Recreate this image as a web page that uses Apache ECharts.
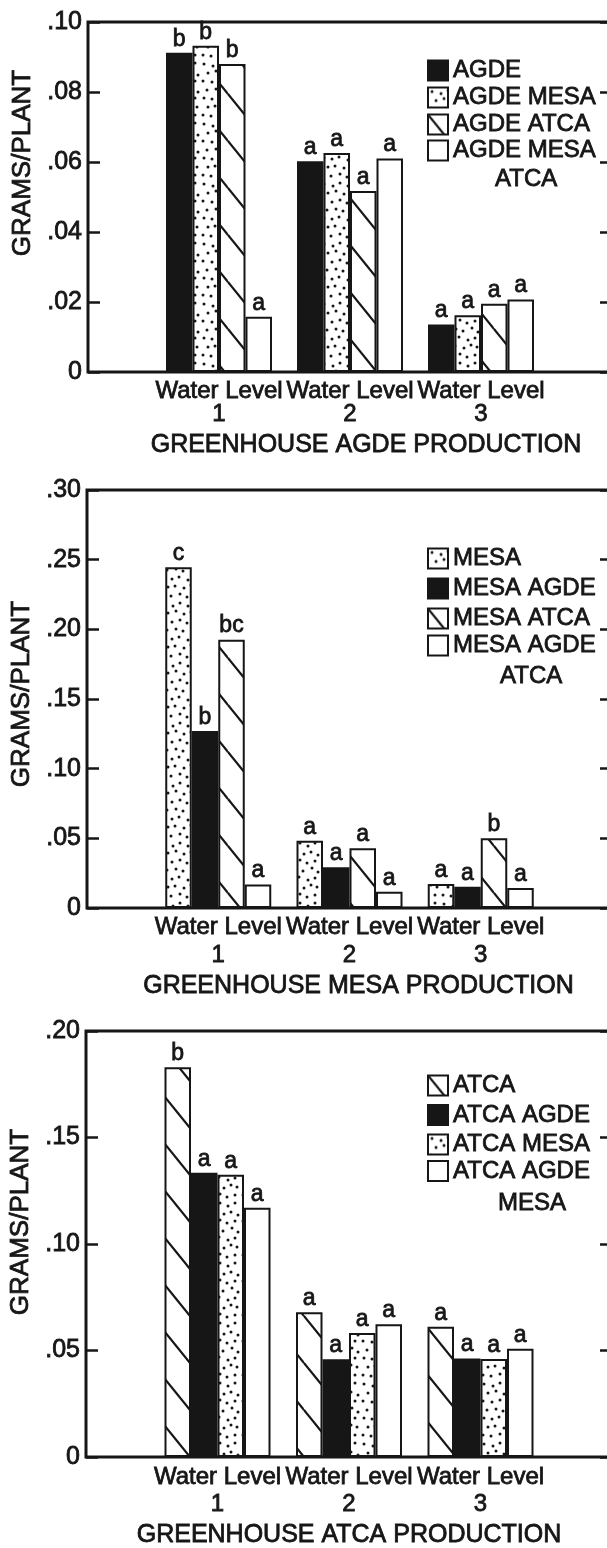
<!DOCTYPE html>
<html>
<head>
<meta charset="utf-8">
<script src="https://cdn.jsdelivr.net/npm/echarts@6.0.0/dist/echarts.min.js"></script>
<style>
  html, body { margin: 0; padding: 0; background: #fff; }
  #chart { width: 607px; height: 1548px; }
</style>
</head>
<body>
<div id="chart"></div>
<script>
// Category slots: the empty end slots frame the three water-level groups
const categories = ['', 'Water Level\n1', 'Water Level\n2', 'Water Level\n3', ''];

// Greenhouse AGDE production, grams per plant
const agdeNames = ['AGDE', 'AGDE MESA', 'AGDE ATCA', 'AGDE MESA ATCA'];
const agdeValues = [
  [0.0912, 0.0602, 0.0136],
  [0.0932, 0.0626, 0.0162],
  [0.0880, 0.0517, 0.0195],
  [0.0158, 0.0610, 0.0207]
];
const agdeLetters = [['b', 'a', 'a'], ['b', 'a', 'a'], ['b', 'a', 'a'], ['a', 'a', 'a']];
const agdeTicks = ['0', '.02', '.04', '.06', '.08', '.10'];

// Greenhouse MESA production, grams per plant
const mesaNames = ['MESA', 'MESA AGDE', 'MESA ATCA', 'MESA AGDE ATCA'];
const mesaValues = [
  [0.2446, 0.0483, 0.0173],
  [0.1270, 0.0292, 0.0153],
  [0.1926, 0.0428, 0.0500],
  [0.0168, 0.0116, 0.0144]
];
const mesaLetters = [['c', 'a', 'a'], ['b', 'a', 'a'], ['bc', 'a', 'b'], ['a', 'a', 'a']];
const mesaTicks = ['0', '.05', '.10', '.15', '.20', '.25', '.30'];

// Greenhouse ATCA production, grams per plant
const atcaNames = ['ATCA', 'ATCA AGDE', 'ATCA MESA', 'ATCA AGDE MESA'];
const atcaValues = [
  [0.1830, 0.0680, 0.0611],
  [0.1334, 0.0459, 0.0462],
  [0.1325, 0.0582, 0.0460],
  [0.1170, 0.0623, 0.0508]
];
const atcaLetters = [['b', 'a', 'a'], ['a', 'a', 'a'], ['a', 'a', 'a'], ['a', 'a', 'a']];
const atcaTicks = ['0', '.05', '.10', '.15', '.20'];

const yTitle = 'GRAMS/PLANT';
const xTitles = ['GREENHOUSE AGDE PRODUCTION', 'GREENHOUSE MESA PRODUCTION', 'GREENHOUSE ATCA PRODUCTION'];

// ---- drawing styles ----
const INK = '#161616';
const FONT = "'Liberation Sans', Arial, Helvetica, sans-serif";
// a thin outline in the ink colour gives the lettering its pen weight
const PEN = { color: INK, fontFamily: FONT, textBorderColor: INK, textBorderWidth: 0.8 };
const pen = extra => Object.assign({}, PEN, extra);

function dotTile() {
  const c = document.createElement('canvas');
  c.width = 40; c.height = 60;
  const g = c.getContext('2d');
  g.fillStyle = '#fff'; g.fillRect(0, 0, 40, 60);
  g.fillStyle = INK;
  const pts = [
    [4, 4], [13, 6], [20, 3], [28, 6], [35, 3],
    [8, 13], [16, 11], [24, 14], [31, 12], [38, 15],
    [3, 21], [12, 22], [20, 20], [27, 23], [35, 21],
    [7, 30], [16, 29], [23, 31], [32, 28], [38, 32],
    [4, 38], [12, 39], [19, 37], [28, 40], [35, 38],
    [8, 47], [15, 46], [24, 48], [31, 45], [37, 47],
    [3, 55], [11, 56], [20, 54], [27, 57], [35, 55]
  ];
  pts.forEach(([x, y]) => { g.beginPath(); g.arc(x, y, 1.5, 0, Math.PI * 2); g.fill(); });
  return c;
}

function hatchTile() {
  const w = 38, h = 47;
  const c = document.createElement('canvas');
  c.width = w; c.height = h;
  const g = c.getContext('2d');
  g.fillStyle = '#fff'; g.fillRect(0, 0, w, h);
  g.strokeStyle = INK; g.lineWidth = 2.2;
  for (let dx = -1; dx <= 1; dx++) {
    for (let dy = -1; dy <= 1; dy++) {
      g.beginPath();
      g.moveTo(dx * w, dy * h);
      g.lineTo(dx * w + w, dy * h + h);
      g.stroke();
    }
  }
  return c;
}

const FILLS = {
  solid: INK,
  dots: { image: dotTile(), repeat: 'repeat' },
  hatch: { image: hatchTile(), repeat: 'repeat' },
  open: '#ffffff'
};

// Panel layout and fill kinds (order follows each legend)
const panels = [
  { names: agdeNames, values: agdeValues, letters: agdeLetters, ticks: agdeTicks,
    fills: ['solid', 'dots', 'hatch', 'open'], max: 0.10, interval: 0.02,
    left: 88, top: 22, height: 350,
    labelLH: 23, labelMargin: 8, nameGapX: 60, namePadX: 32,
    nameGapY: 52, namePadY: 68,
    legTop: 58, legGap: 2.3, leg2Top: 136, leg2LH: 29, indent: 42 },
  { names: mesaNames, values: mesaValues, letters: mesaLetters, ticks: mesaTicks,
    fills: ['dots', 'solid', 'hatch', 'open'], max: 0.30, interval: 0.05,
    left: 87, top: 490, height: 418,
    labelLH: 28, labelMargin: 5, nameGapX: 65, namePadX: 18,
    nameGapY: 50, namePadY: 10,
    legTop: 546, legGap: 5.3, leg2Top: 630, leg2LH: 31, indent: 47 },
  { names: atcaNames, values: atcaValues, letters: atcaLetters, ticks: atcaTicks,
    fills: ['hatch', 'solid', 'dots', 'open'], max: 0.20, interval: 0.05,
    left: 86, top: 1031, height: 426,
    labelLH: 27, labelMargin: 7, nameGapX: 65, namePadX: 0,
    nameGapY: 52, namePadY: 44,
    legTop: 1073, legGap: 4.7, leg2Top: 1155, leg2LH: 32, indent: 45 }
];

const RIGHT_EDGE = 612;
const grid = [], xAxis = [], yAxis = [], legend = [], series = [];

panels.forEach((p, i) => {
  grid.push({
    left: p.left, top: p.top, width: RIGHT_EDGE - p.left, height: p.height,
    show: true, borderColor: INK, borderWidth: 3, backgroundColor: 'transparent',
    containLabel: false, outerBoundsMode: 'none'
  });

  xAxis.push({
    type: 'category', gridIndex: i, data: categories, boundaryGap: false,
    axisLine: { show: false }, axisTick: { show: false }, splitLine: { show: false },
    axisLabel: pen({
      interval: 0, fontSize: 24, lineHeight: p.labelLH, margin: p.labelMargin, align: 'center'
    }),
    name: xTitles[i], nameLocation: 'middle', nameGap: p.nameGapX,
    nameTextStyle: pen({ fontSize: 25, lineHeight: 26, padding: [0, 0, 0, p.namePadX] })
  });

  const tickStyle = { show: true, inside: true, length: 12, lineStyle: { color: INK, width: 2.5 } };
  yAxis.push({
    type: 'value', gridIndex: i, min: 0, max: p.max, interval: p.interval,
    axisLine: { show: false }, axisTick: tickStyle, splitLine: { show: false },
    axisLabel: pen({ fontSize: 25, margin: 6, formatter: (v, idx) => p.ticks[idx] }),
    name: yTitle, nameLocation: 'middle', nameRotate: 90, nameGap: p.nameGapY,
    nameTextStyle: pen({ fontSize: 26, lineHeight: 26, padding: [0, 0, 0, p.namePadY] })
  });
  yAxis.push({
    type: 'value', gridIndex: i, position: 'right', min: 0, max: p.max, interval: p.interval,
    axisLine: { show: false }, axisTick: tickStyle, splitLine: { show: false },
    axisLabel: { show: false }
  });

  p.names.forEach((name, k) => {
    series.push({
      name, type: 'bar', xAxisIndex: i, yAxisIndex: 2 * i,
      barWidth: 26.5, barGap: '0%',
      data: ['-', ...p.values[k], '-'],
      itemStyle: { color: FILLS[p.fills[k]], borderColor: INK, borderWidth: 2 },
      label: pen({
        show: true, position: 'top', distance: 2, fontSize: 23,
        formatter: prm => p.letters[k][prm.dataIndex - 1]
      }),
      emphasis: { disabled: true }
    });
  });

  legend.push({
    orient: 'vertical', left: 427, top: p.legTop, padding: 0,
    itemWidth: 20, itemHeight: 20, itemGap: p.legGap,
    icon: 'rect', selectedMode: false,
    itemStyle: { borderColor: INK, borderWidth: 2 },
    textStyle: pen({ fontSize: 24, lineHeight: 20 }),
    data: p.names.slice(0, 3)
  });
  // the last name wraps: square beside the first line, second line indented
  const h2 = p.leg2LH + 20;
  legend.push({
    orient: 'vertical', left: 427, top: p.leg2Top, padding: 0,
    itemWidth: 20, itemHeight: h2, selectedMode: false,
    itemStyle: { borderColor: INK, borderWidth: 2 },
    textStyle: pen({
      fontSize: 24, lineHeight: p.leg2LH,
      rich: {
        a: pen({ fontSize: 24, lineHeight: p.leg2LH }),
        b: pen({ fontSize: 24, lineHeight: p.leg2LH, padding: [0, 0, 0, p.indent] })
      }
    }),
    formatter: name => {
      const cut = name.lastIndexOf(' ');
      return '{a|' + name.slice(0, cut) + '}\n{b|' + name.slice(cut + 1) + '}';
    },
    data: [{ name: p.names[3], icon: 'path://M0 0H20V20H0Z M0 ' + h2 + 'L0 ' + h2 }]
  });
});

const chart = echarts.init(document.getElementById('chart'), null, { renderer: 'canvas' });
chart.setOption({
  animation: false,
  backgroundColor: '#ffffff',
  textStyle: { fontFamily: FONT, color: INK },
  grid, xAxis, yAxis, legend, series
});
</script>
</body>
</html>
